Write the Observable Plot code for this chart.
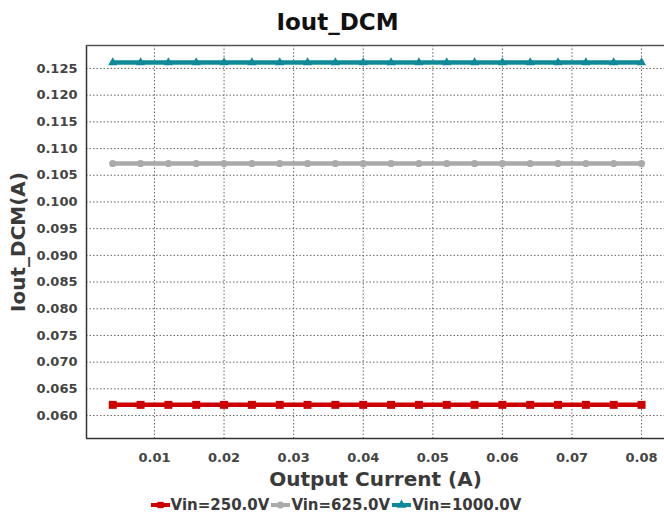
<!DOCTYPE html>
<html>
<head>
<meta charset="utf-8">
<script src="https://cdn.jsdelivr.net/npm/d3@7"></script>
<script src="https://cdn.jsdelivr.net/npm/@observablehq/plot@0.6"></script>
<style>
  body { margin: 0; background: #fff; font-family: "DejaVu Sans", sans-serif; }
  #wrap { position: relative; width: 664px; height: 514px; overflow: hidden; }
  #title { position: absolute; left: 0; top: 9px; width: 675px; text-align: center; font-weight: bold; font-size: 23px; color: #111; }
  #legend { position: absolute; left: 0; top: 496px; width: 674px; display: flex; justify-content: center; align-items: center; font-weight: bold; font-size: 15px; color: #3a3a3a; }
  .item { display: flex; align-items: center; margin-right: 2px; }
  .item svg { margin-right: 1px; }
</style>
</head>
<body>
<div id="wrap">
  <div id="title">Iout_DCM</div>
  <div id="chart"></div>
  <div id="legend"></div>
</div>
<script>
const outputCurrent = [0.004, 0.008, 0.012, 0.016, 0.020, 0.024, 0.028, 0.032, 0.036, 0.040,
                       0.044, 0.048, 0.052, 0.056, 0.060, 0.064, 0.068, 0.072, 0.076, 0.080];
const seriesNames = ["Vin=250.0V", "Vin=625.0V", "Vin=1000.0V"];
const vin250 = [0.0620, 0.0620, 0.0620, 0.0620, 0.0620, 0.0620, 0.0620, 0.0620, 0.0620, 0.0620,
                0.0620, 0.0620, 0.0620, 0.0620, 0.0620, 0.0620, 0.0620, 0.0620, 0.0620, 0.0620];
const vin625 = [0.1072, 0.1072, 0.1072, 0.1072, 0.1072, 0.1072, 0.1072, 0.1072, 0.1072, 0.1072,
                0.1072, 0.1072, 0.1072, 0.1072, 0.1072, 0.1072, 0.1072, 0.1072, 0.1072, 0.1072];
const vin1000 = [0.1261, 0.1261, 0.1261, 0.1261, 0.1261, 0.1261, 0.1261, 0.1261, 0.1261, 0.1261,
                 0.1261, 0.1261, 0.1261, 0.1261, 0.1261, 0.1261, 0.1261, 0.1261, 0.1261, 0.1261];
const xTicks = [0.01, 0.02, 0.03, 0.04, 0.05, 0.06, 0.07, 0.08];
const yTicks = [0.060, 0.065, 0.070, 0.075, 0.080, 0.085, 0.090, 0.095, 0.100, 0.105,
                0.110, 0.115, 0.120, 0.125];
const colors = ["#cc0000", "#aaaaaa", "#10899a"];
const symbols = ["square", "circle", "triangle"];
const radii = [4.5, 3.6, 3.4];

const xDomain = [0.00023, 0.0833];
const yDomain = [0.0557, 0.1293];

const allSeries = [vin250, vin625, vin1000];
const rows = [];
allSeries.forEach((vals, s) => vals.forEach((v, i) => rows.push({x: outputCurrent[i], y: v, series: seriesNames[s]})));

const tickFont = {fontWeight: "bold", fontSize: 13, fill: "#444"};

const marks = [
  Plot.gridX(xTicks, {stroke: "#555", strokeOpacity: 0.9, strokeDasharray: "1.5,2"}),
  Plot.gridY(yTicks, {stroke: "#555", strokeOpacity: 0.9, strokeDasharray: "1.5,2"}),
  Plot.ruleX([xDomain[0]], {stroke: "#333", strokeWidth: 1.5}),
  Plot.ruleY([yDomain[0]], {stroke: "#333", strokeWidth: 1.5}),
  Plot.ruleY([yDomain[1]], {stroke: "#555", strokeWidth: 1.5}),
  Plot.axisX(xTicks, {tickSize: 0, tickPadding: 14, tickFormat: d3.format(".2f"), ...tickFont,
    label: "Output Current (A)", labelAnchor: "center", labelArrow: "none", labelOffset: 47}),
  Plot.axisY(yTicks, {tickSize: 0, tickPadding: 9, tickFormat: d3.format(".3f"), ...tickFont,
    label: "Iout_DCM(A)", labelAnchor: "center", labelArrow: "none", labelOffset: 76})
];
seriesNames.forEach((name, s) => {
  const d = rows.filter(r => r.series === name);
  marks.push(Plot.line(d, {x: "x", y: "y", stroke: colors[s], strokeWidth: 4.5}));
  marks.push(Plot.dot(d, {x: "x", y: "y", fill: colors[s], stroke: "none", symbol: symbols[s], r: radii[s]}));
});

const chart = Plot.plot({
  width: 664,
  height: 490,
  marginLeft: 86,
  marginRight: 0,
  marginTop: 45,
  marginBottom: 52,
  x: {domain: xDomain},
  y: {domain: yDomain},
  style: {fontFamily: "DejaVu Sans, sans-serif", background: "white", overflow: "visible"},
  marks
});
chart.querySelectorAll('[aria-label="x-axis label"] text, [aria-label="y-axis label"] text').forEach(t => {
  t.setAttribute("font-size", "20");
  t.setAttribute("font-weight", "bold");
  t.setAttribute("fill", "#3a3a3a");
  t.style.fontSize = "20px";
  t.style.fontWeight = "bold";
});
document.getElementById("chart").appendChild(chart);

const legend = document.getElementById("legend");
seriesNames.forEach((name, s) => {
  const item = document.createElement("div");
  item.className = "item";
  const sw = d3.create("svg").attr("width", 19).attr("height", 12);
  sw.append("line").attr("x1", 0).attr("x2", 19).attr("y1", 6).attr("y2", 6)
    .attr("stroke", colors[s]).attr("stroke-width", 4);
  const sym = {square: d3.symbolSquare, circle: d3.symbolCircle, triangle: d3.symbolTriangle}[symbols[s]];
  sw.append("path").attr("transform", "translate(9.5,6)")
    .attr("d", d3.symbol(sym, 40)()).attr("fill", colors[s]);
  item.appendChild(sw.node());
  const label = document.createElement("span");
  label.textContent = name;
  item.appendChild(label);
  legend.appendChild(item);
});
</script>
</body>
</html>
